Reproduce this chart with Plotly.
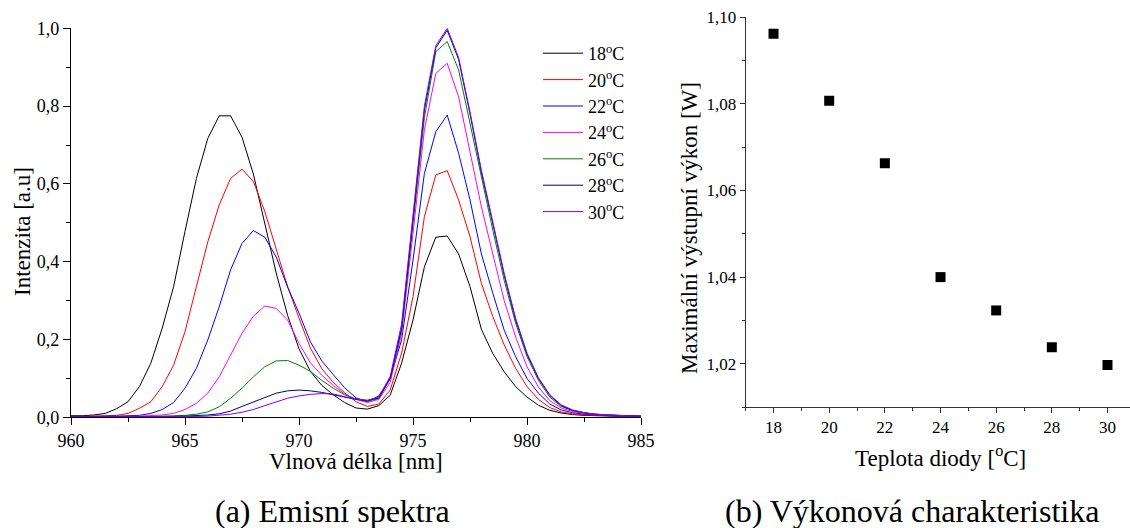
import plotly.graph_objects as go

# Wavelength grid of the spectra [nm]
wavelength = [960.0, 960.5, 961.0, 961.5, 962.0, 962.5, 963.0, 963.5, 964.0, 964.5,
              965.0, 965.5, 966.0, 966.5, 967.0, 967.5, 968.0, 968.5, 969.0, 969.5,
              970.0, 970.5, 971.0, 971.5, 972.0, 972.5, 973.0, 973.5, 974.0, 974.5,
              975.0, 975.5, 976.0, 976.5, 977.0, 977.5, 978.0, 978.5, 979.0, 979.5,
              980.0, 980.5, 981.0, 981.5, 982.0, 982.5, 983.0, 983.5, 984.0, 984.5,
              985.0]

# Emission spectra (normalised intensity) for each diode temperature
spec_18 = [0.004, 0.004, 0.006, 0.010, 0.022, 0.040, 0.079, 0.139, 0.229, 0.336,
           0.478, 0.614, 0.717, 0.775, 0.775, 0.720, 0.625, 0.500, 0.371, 0.262,
           0.176, 0.118, 0.082, 0.058, 0.038, 0.024, 0.021, 0.030, 0.057, 0.139,
           0.250, 0.387, 0.463, 0.466, 0.420, 0.336, 0.226, 0.164, 0.117, 0.079,
           0.052, 0.031, 0.018, 0.011, 0.007, 0.005, 0.004, 0.003, 0.002, 0.002,
           0.001]
spec_20 = [0.002, 0.002, 0.003, 0.004, 0.005, 0.010, 0.023, 0.040, 0.079, 0.134,
           0.220, 0.336, 0.451, 0.546, 0.614, 0.638, 0.606, 0.529, 0.430, 0.336,
           0.255, 0.178, 0.125, 0.090, 0.063, 0.040, 0.028, 0.034, 0.070, 0.165,
           0.310, 0.516, 0.623, 0.634, 0.559, 0.464, 0.344, 0.259, 0.186, 0.126,
           0.079, 0.046, 0.025, 0.014, 0.009, 0.006, 0.005, 0.004, 0.003, 0.002,
           0.002]
spec_22 = [0.002, 0.002, 0.002, 0.003, 0.003, 0.004, 0.005, 0.010, 0.020, 0.038,
           0.075, 0.126, 0.199, 0.284, 0.379, 0.447, 0.480, 0.463, 0.412, 0.335,
           0.268, 0.194, 0.145, 0.110, 0.076, 0.050, 0.040, 0.055, 0.100, 0.199,
           0.404, 0.627, 0.734, 0.777, 0.679, 0.559, 0.420, 0.319, 0.224, 0.156,
           0.100, 0.062, 0.034, 0.019, 0.012, 0.008, 0.006, 0.004, 0.003, 0.003,
           0.002]
spec_24 = [0.001, 0.001, 0.001, 0.002, 0.002, 0.002, 0.003, 0.004, 0.006, 0.010,
           0.020, 0.036, 0.062, 0.104, 0.160, 0.216, 0.260, 0.286, 0.280, 0.250,
           0.190, 0.140, 0.108, 0.082, 0.060, 0.046, 0.038, 0.046, 0.090, 0.216,
           0.473, 0.739, 0.884, 0.910, 0.824, 0.679, 0.541, 0.420, 0.300, 0.207,
           0.130, 0.078, 0.043, 0.024, 0.015, 0.010, 0.007, 0.005, 0.004, 0.003,
           0.003]
spec_26 = [0.001, 0.001, 0.001, 0.001, 0.001, 0.001, 0.002, 0.002, 0.003, 0.004,
           0.005, 0.008, 0.014, 0.027, 0.049, 0.075, 0.104, 0.130, 0.145, 0.146,
           0.134, 0.118, 0.095, 0.075, 0.058, 0.047, 0.041, 0.048, 0.100, 0.225,
           0.500, 0.770, 0.940, 0.966, 0.893, 0.756, 0.610, 0.481, 0.352, 0.242,
           0.156, 0.095, 0.052, 0.028, 0.017, 0.011, 0.008, 0.006, 0.005, 0.004,
           0.003]
spec_28 = [0.001, 0.001, 0.001, 0.001, 0.001, 0.001, 0.001, 0.001, 0.002, 0.002,
           0.003, 0.004, 0.006, 0.009, 0.016, 0.028, 0.040, 0.052, 0.062, 0.068,
           0.070, 0.068, 0.064, 0.058, 0.052, 0.046, 0.043, 0.050, 0.100, 0.230,
           0.510, 0.790, 0.950, 0.995, 0.920, 0.780, 0.630, 0.500, 0.365, 0.250,
           0.162, 0.100, 0.056, 0.030, 0.018, 0.012, 0.008, 0.006, 0.005, 0.004,
           0.003]
spec_30 = [0.001, 0.001, 0.001, 0.001, 0.001, 0.001, 0.001, 0.001, 0.001, 0.001,
           0.002, 0.002, 0.003, 0.005, 0.008, 0.013, 0.020, 0.030, 0.040, 0.049,
           0.055, 0.059, 0.061, 0.060, 0.053, 0.047, 0.044, 0.052, 0.105, 0.240,
           0.520, 0.800, 0.955, 1.000, 0.925, 0.785, 0.635, 0.505, 0.370, 0.255,
           0.165, 0.102, 0.058, 0.032, 0.019, 0.012, 0.008, 0.006, 0.005, 0.004,
           0.003]

series_labels = ["18", "20", "22", "24", "26", "28", "30"]
series_values = [spec_18, spec_20, spec_22, spec_24, spec_26, spec_28, spec_30]
series_colors = ["#000000", "#FF0000", "#0000FF", "#FF00FF",
                 "#008000", "#000080", "#8000FF"]

# Maximum output power vs. diode temperature
diode_temp = [18, 20, 22, 24, 26, 28, 30]
max_power = [1.0962, 1.0807, 1.0663, 1.0400, 1.0323, 1.0238, 1.0197]

SERIF = "Liberation Serif, Times New Roman, DejaVu Serif, serif"
W, H = 1130, 528

fig = go.Figure()

for lab, vals, col in zip(series_labels, series_values, series_colors):
    fig.add_trace(go.Scatter(
        x=wavelength, y=vals, mode="lines", name=f"{lab}<sup>o</sup>C",
        line=dict(color=col, width=1), xaxis="x", yaxis="y",
    ))

fig.add_trace(go.Scatter(
    x=diode_temp, y=max_power, mode="markers", showlegend=False,
    marker=dict(symbol="square", size=10, color="black"),
    xaxis="x2", yaxis="y2",
))

def px_x(p):
    return p / W

def px_y(p):
    return (H - p) / H

tick_font = dict(family=SERIF, size=18, color="black")
tick_font2 = dict(family=SERIF, size=17, color="black")

fig.update_layout(
    width=W, height=H, autosize=False,
    margin=dict(l=0, r=0, t=0, b=0, pad=0, autoexpand=False),
    paper_bgcolor="white", plot_bgcolor="white",
    separators=", ",
    showlegend=True,
    legend=dict(
        x=px_x(538), y=px_y(35), xanchor="left", yanchor="top",
        font=dict(family=SERIF, size=18, color="black"),
        bgcolor="rgba(0,0,0,0)", itemwidth=40, tracegroupgap=0,
    ),
    xaxis=dict(
        domain=[px_x(71), px_x(641)], range=[960, 985], automargin=False,
        tickvals=[960, 965, 970, 975, 980, 985], tickformat="d",
        ticks="outside", ticklen=7, tickcolor="black", tickwidth=1,
        minor=dict(dtick=2.5, tick0=960, ticks="outside", ticklen=4, tickcolor="black"),
        showline=True, linecolor="black", linewidth=1.3,
        showgrid=False, zeroline=False, tickfont=tick_font, anchor="y",
    ),
    yaxis=dict(
        domain=[px_y(417.3), px_y(28.3)], range=[0, 1.0], automargin=False,
        dtick=0.2, tick0=0, tickformat=".1f",
        ticks="outside", ticklen=7, tickcolor="black", tickwidth=1,
        minor=dict(dtick=0.1, ticks="outside", ticklen=4, tickcolor="black"),
        showline=True, linecolor="black", linewidth=1.3,
        showgrid=False, zeroline=False, tickfont=tick_font, anchor="x",
    ),
    xaxis2=dict(
        domain=[px_x(745.7), 1.0], range=[17, 17 + (W - 745.7) / 27.83], automargin=False,
        tickvals=[18, 20, 22, 24, 26, 28, 30], tickformat="d",
        ticks="outside", ticklen=5, tickcolor="#333333", tickwidth=1,
        minor=dict(dtick=1, tick0=17, ticks="outside", ticklen=3, tickcolor="#333333"),
        showline=True, linecolor="#333333", linewidth=1,
        showgrid=False, zeroline=False, tickfont=tick_font2, anchor="y2",
    ),
    yaxis2=dict(
        domain=[px_y(407), px_y(17.3)], range=[1.01, 1.10], automargin=False,
        tickvals=[1.02, 1.04, 1.06, 1.08, 1.10], tickformat=".2f",
        ticks="outside", ticklen=5, tickcolor="#333333", tickwidth=1,
        minor=dict(dtick=0.01, tick0=1.0, ticks="outside", ticklen=3, tickcolor="#333333"),
        showline=True, linecolor="#333333", linewidth=1,
        showgrid=False, zeroline=False, tickfont=tick_font2, anchor="x2",
    ),
)

title_font = dict(family=SERIF, size=23, color="black")
caption_font = dict(family=SERIF, size=32, color="black")

annotations = [
    dict(text="Vlnová délka [nm]", x=px_x(356), y=px_y(461), font=title_font),
    dict(text="Intenzita [a.u]", x=px_x(22), y=px_y(232), textangle=-90, font=title_font),
    dict(text="Teplota diody [<sup>o</sup>C]", x=px_x(940), y=px_y(456), font=title_font),
    dict(text="Maximální výstupní výkon [W]", x=px_x(690), y=px_y(228), textangle=-90,
         font=title_font),
    dict(text="(a) Emisní spektra", x=px_x(332), y=px_y(511), font=caption_font),
    dict(text="(b) Výkonová charakteristika", x=px_x(912), y=px_y(511), font=caption_font),
]
for a in annotations:
    fig.add_annotation(xref="paper", yref="paper", xanchor="center", yanchor="middle",
                       showarrow=False, **a)

fig.write_html("out.html")
